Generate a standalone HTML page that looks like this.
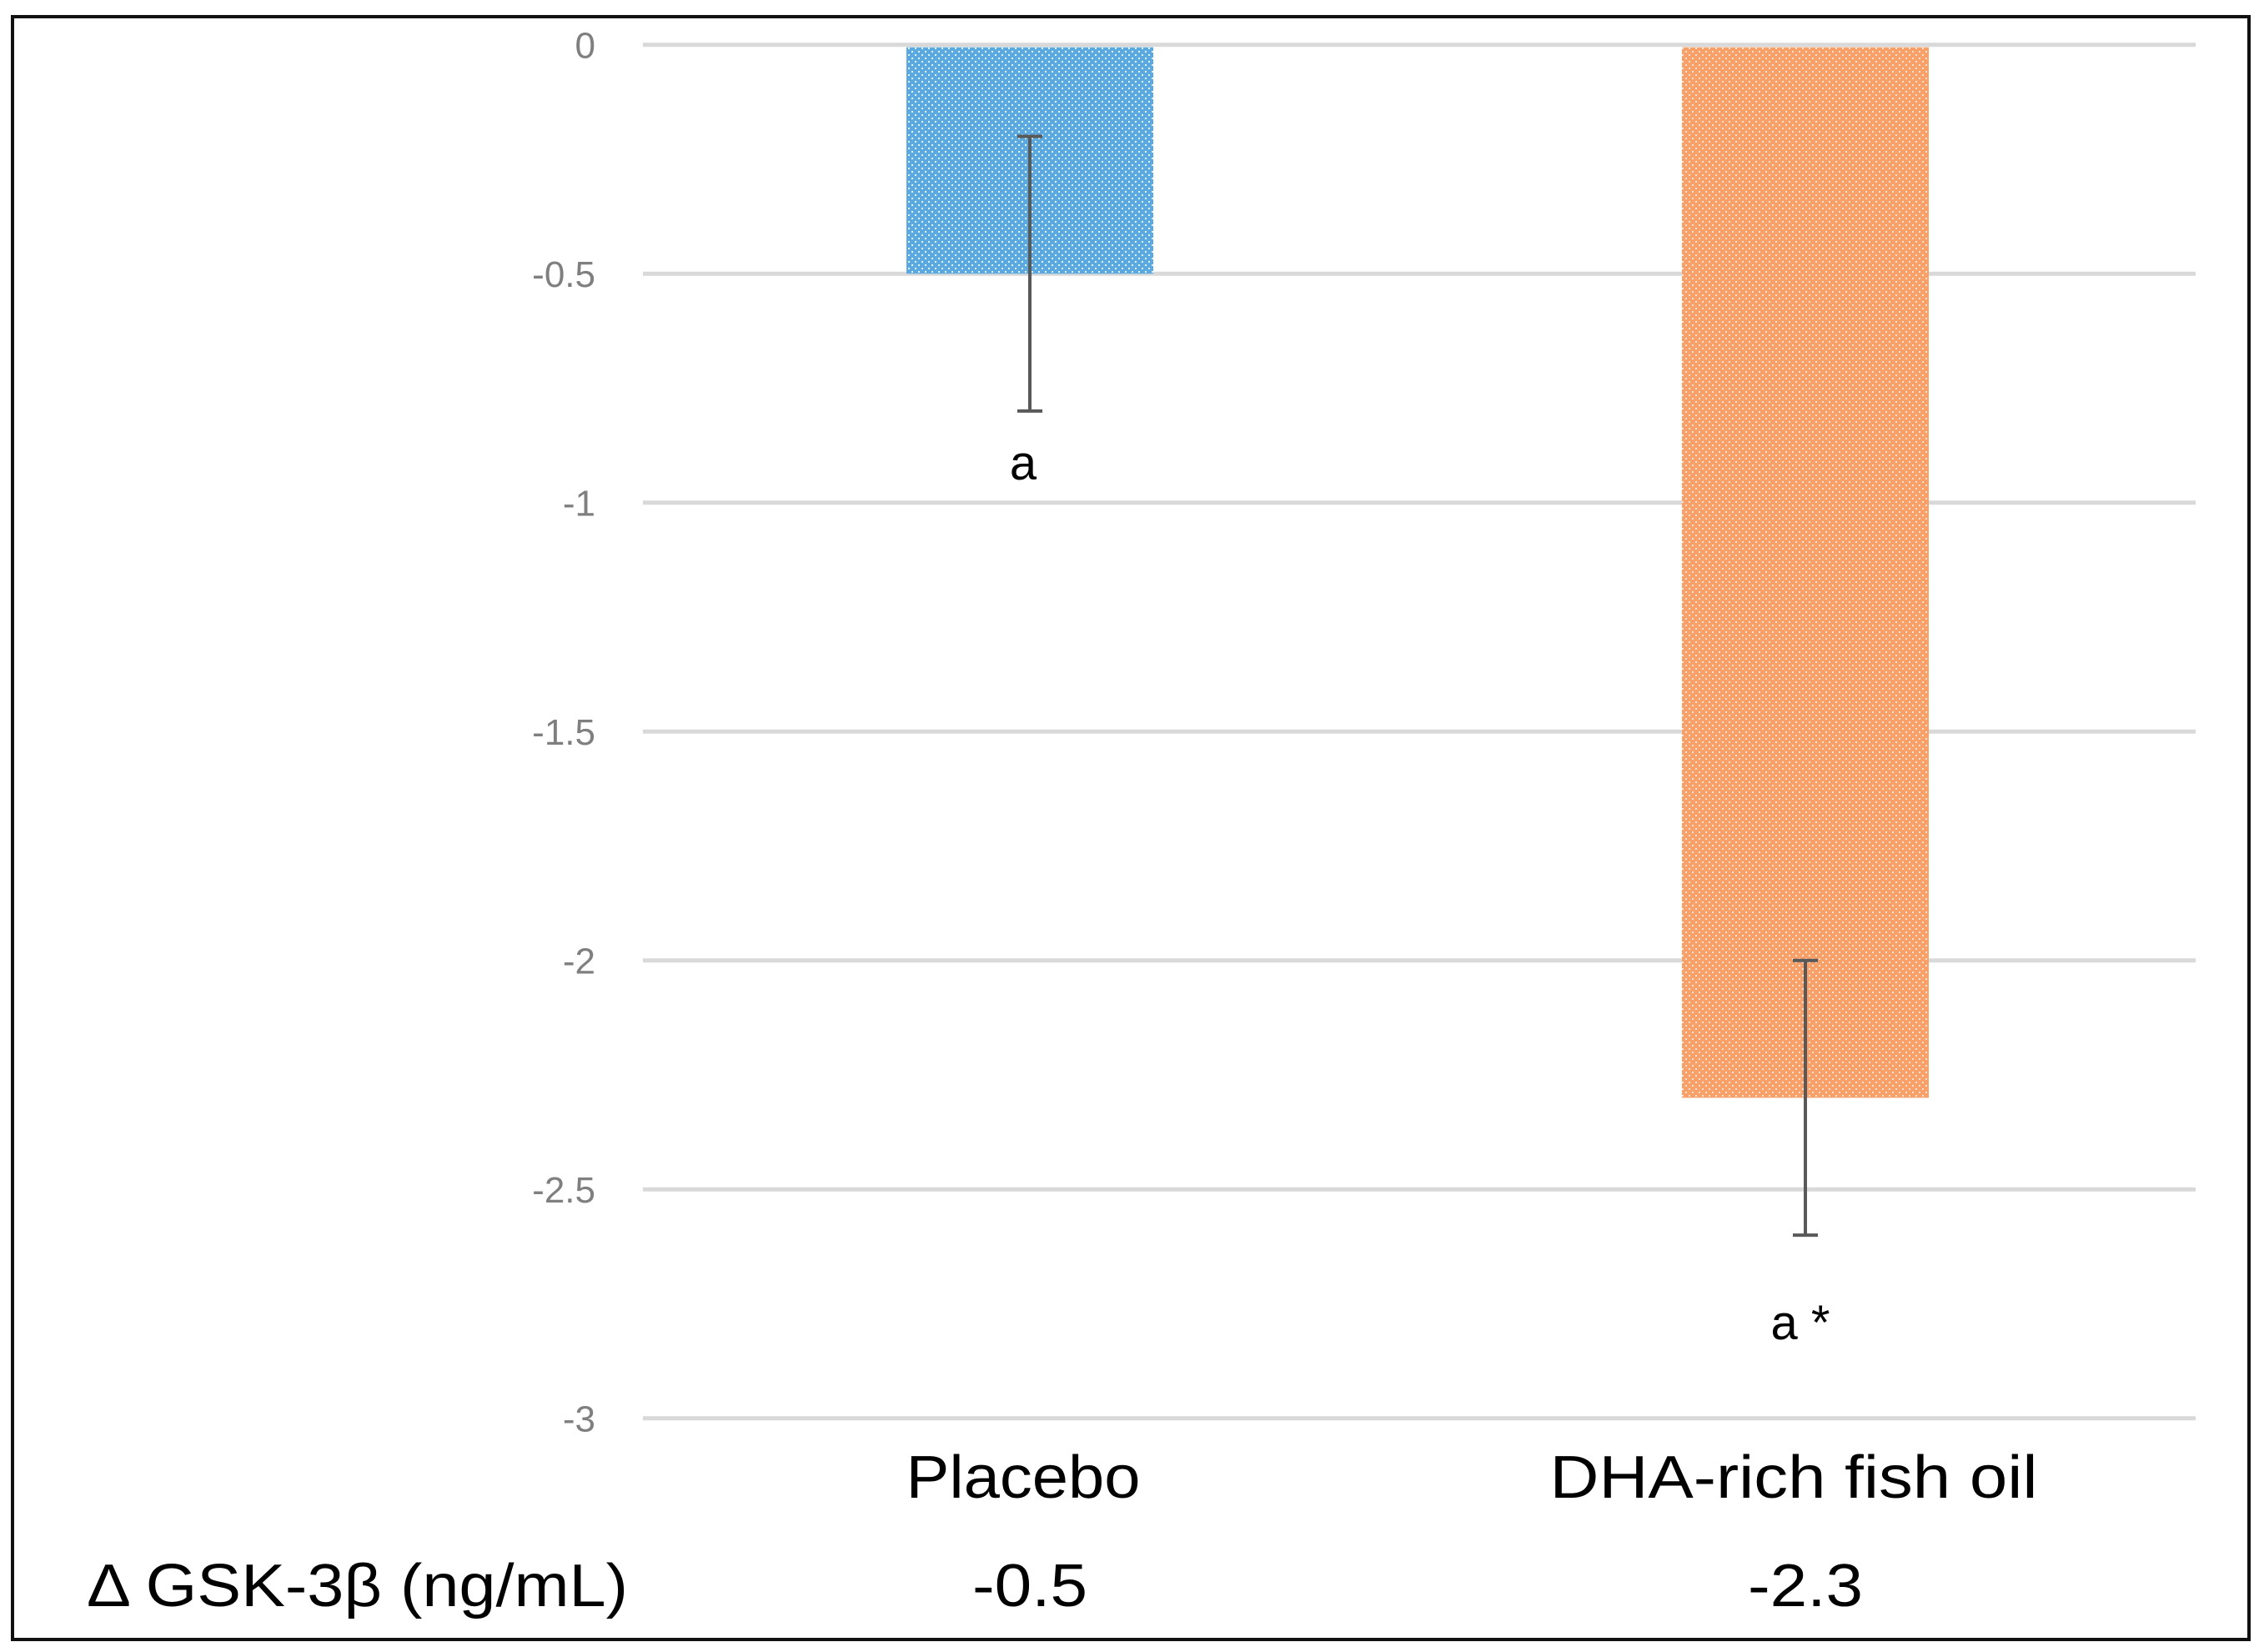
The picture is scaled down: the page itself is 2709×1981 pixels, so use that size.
<!DOCTYPE html>
<html><head><meta charset="utf-8"><style>
html,body{margin:0;padding:0;background:#fff;}
svg{display:block;font-family:"Liberation Sans",sans-serif;}
</style></head><body>
<svg id="chart" width="2709" height="1981" viewBox="0 0 2709 1981" xmlns="http://www.w3.org/2000/svg">
<defs>
<pattern id="dotsBlue" width="8" height="8" patternUnits="userSpaceOnUse">
<rect width="8" height="8" fill="#5aa9e0"/><rect x="1" y="1" width="2" height="2" fill="#e6f2fb"/><rect x="5" y="5" width="2" height="2" fill="#e6f2fb"/>
</pattern>
<pattern id="dotsOrange" width="8" height="8" patternUnits="userSpaceOnUse">
<rect width="8" height="8" fill="#f99f68"/><rect x="1" y="1" width="2" height="2" fill="#fde4d4"/><rect x="5" y="5" width="2" height="2" fill="#fde4d4"/>
</pattern>
</defs>
<rect x="15" y="20" width="2682" height="1946" fill="#fff" stroke="#111" stroke-width="4"/>
<g id="grid"></g>
<g id="bars"></g>
<g id="labels"></g>
</svg>
<script>
const categories = ["Placebo", "DHA-rich fish oil"];
const values = [-0.5, -2.3];
const errLow = [-0.8, -2.6];
const errHigh = [-0.2, -2.0];
const sigLabels = ["a", "a *"];
const ticks = [0, -0.5, -1, -1.5, -2, -2.5, -3];
const tickLabels = ["0", "-0.5", "-1", "-1.5", "-2", "-2.5", "-3"];
const deltaLabels = ["-0.5", "-2.3"];

const NS = "http://www.w3.org/2000/svg";
const x0 = 771, x1 = 2633, y0 = 53.7;
function yScale(v){ return y0 + (-v) * 549; }
const centers = [1235, 2165];
function xScale(i){ return centers[i]; }
const barW = 296;
function mk(tag, attrs, parent){ const e = document.createElementNS(NS, tag); for (const k in attrs) e.setAttribute(k, attrs[k]); parent.appendChild(e); return e; }

const grid = document.getElementById('grid');
ticks.forEach((t, i) => {
  const l = mk('line', {x1: x0, x2: x1, y1: yScale(t), y2: yScale(t), stroke: '#d9d9d9', 'stroke-width': 5}, grid);
  
  
  const tx = mk('text', {x: 714, y: yScale(t) + 16, 'text-anchor': 'end', 'font-size': 44, fill: '#7f7f7f'}, grid);
  tx.textContent = tickLabels[i];
  
  
});

const bars = document.getElementById('bars');
const fills = ['url(#dotsBlue)', 'url(#dotsOrange)'];
values.forEach((v, i) => {
  const cx = xScale(i);
  const top = yScale(0) + 3, bot = yScale(v);
  const r = mk('rect', {x: cx - barW/2, y: top, width: barW, height: bot - top, fill: fills[i]}, bars);
  
  
  const g = mk('g', {stroke: '#595959', 'stroke-width': 4}, bars);
  
  
  mk('line', {x1: cx, x2: cx, y1: yScale(errHigh[i]), y2: yScale(errLow[i])}, g);
  mk('line', {x1: cx - 15, x2: cx + 15, y1: yScale(errHigh[i]), y2: yScale(errHigh[i])}, g);
  mk('line', {x1: cx - 15, x2: cx + 15, y1: yScale(errLow[i]), y2: yScale(errLow[i])}, g);
  const s = mk('text', {x: cx - 8 + (i===1?2:0), y: yScale(errLow[i]) + (i===0?82:125), 'text-anchor': 'middle', 'font-size': 58, fill: '#000'}, bars);
  s.textContent = sigLabels[i];
  
  
});

const labels = document.getElementById('labels');
const catW = [281, 585];
categories.forEach((c, i) => {
  const t = mk('text', {x: xScale(i) - 8 + (i===1?-6:0), y: 1796, 'text-anchor': 'middle', 'font-size': 72, fill: '#000', textLength: catW[i], lengthAdjust: 'spacingAndGlyphs'}, labels);
  t.textContent = c;
  
  
  const d = mk('text', {x: xScale(i), y: 1926, 'text-anchor': 'middle', 'font-size': 72, fill: '#000', textLength: 138, lengthAdjust: 'spacingAndGlyphs'}, labels);
  d.textContent = deltaLabels[i];
  
  
});
const rl = mk('text', {x: 104, y: 1926, 'font-size': 72, fill: '#000', textLength: 649, lengthAdjust: 'spacingAndGlyphs'}, labels);
rl.textContent = "Δ GSK-3β (ng/mL)";


</script>
</body></html>
